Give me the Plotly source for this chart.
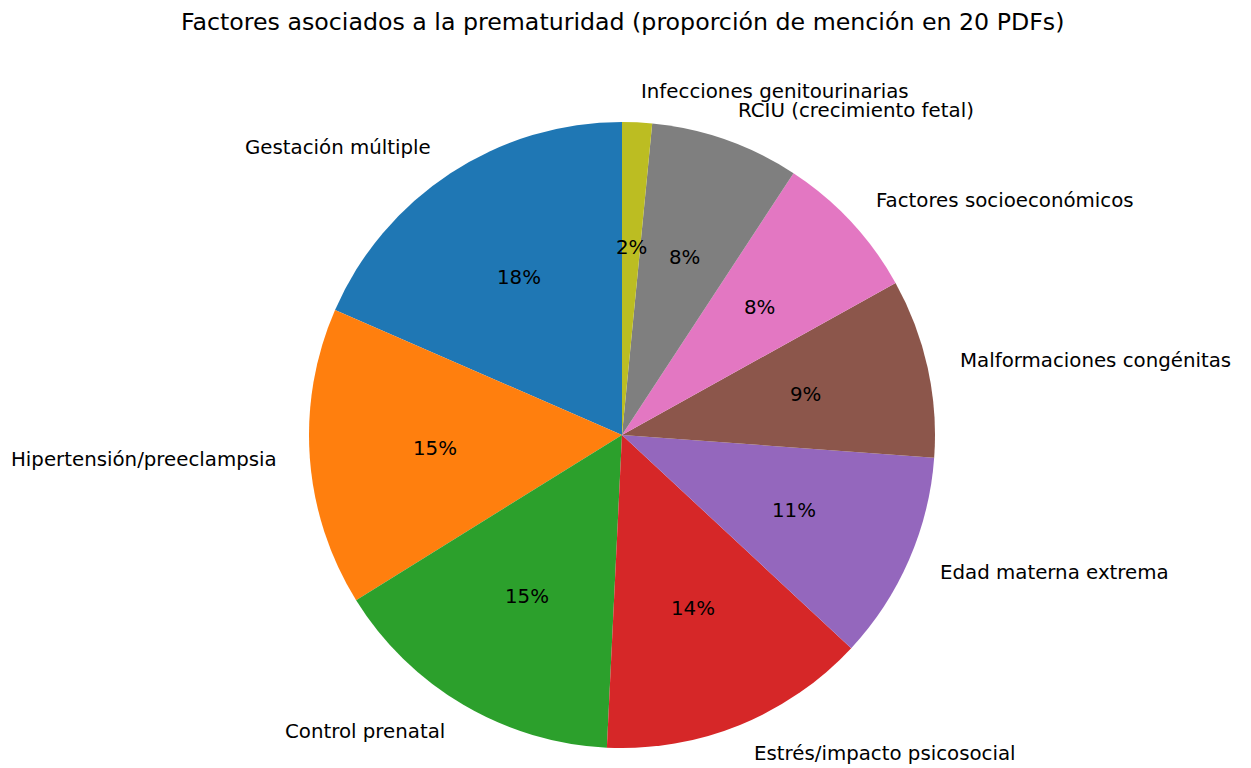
import math
import plotly.graph_objects as go

labels = ["Gestación múltiple", "Hipertensión/preeclampsia", "Control prenatal",
          "Estrés/impacto psicosocial", "Edad materna extrema", "Malformaciones congénitas",
          "Factores socioeconómicos", "RCIU (crecimiento fetal)", "Infecciones genitourinarias"]
counts = [12, 10, 10, 9, 7, 6, 5, 5, 1]
colors = ["#1f77b4", "#ff7f0e", "#2ca02c", "#d62728", "#9467bd",
          "#8c564b", "#e377c2", "#7f7f7f", "#bcbd22"]
title = "Factores asociados a la prematuridad (proporción de mención en 20 PDFs)"

OFF = 8  # page body margin
W, H = 1251 - OFF, 768 - OFF
CX, CY, R = 622 - OFF, 435 - OFF, 313  # pie center / radius in pixels (figure coords)

total = sum(counts)
first_span = 360.0 * counts[0] / total

fig = go.Figure(go.Pie(
    labels=labels, values=counts, sort=False, direction="counterclockwise",
    rotation=-first_span, marker=dict(colors=colors, line=dict(width=0)),
    textinfo="none", showlegend=False,
    domain=dict(x=[(CX - R) / W, (CX + R) / W], y=[1 - (CY + R) / H, 1 - (CY - R) / H]),
))

ann = []
start = 90.0
font_lbl = dict(family="DejaVu Sans", size=19.8, color="black")
for lab, c in zip(labels, counts):
    span = 360.0 * c / total
    mid = math.radians(start + span / 2)
    start += span
    lx = CX + 1.1 * R * math.cos(mid)
    ly = CY - 1.1 * R * math.sin(mid)
    ann.append(dict(x=lx / W, y=1 - ly / H, xref="paper", yref="paper", text=lab,
                    showarrow=False, xanchor="left" if math.cos(mid) > 0 else "right",
                    yanchor="middle", font=font_lbl))
    px = CX + 0.6 * R * math.cos(mid)
    py = CY - 0.6 * R * math.sin(mid)
    ann.append(dict(x=px / W, y=1 - py / H, xref="paper", yref="paper",
                    text="%d%%" % round(100.0 * c / total),
                    showarrow=False, xanchor="center", yanchor="middle", font=font_lbl))

ann.append(dict(x=CX / W, y=1 - (22 - OFF) / H, xref="paper", yref="paper", text=title,
                showarrow=False, xanchor="center", yanchor="middle",
                font=dict(family="DejaVu Sans", size=23.7, color="black")))

fig.update_layout(width=W, height=H, margin=dict(l=0, r=0, t=0, b=0),
                  paper_bgcolor="white", plot_bgcolor="white", annotations=ann)
fig.write_html("out.html")
